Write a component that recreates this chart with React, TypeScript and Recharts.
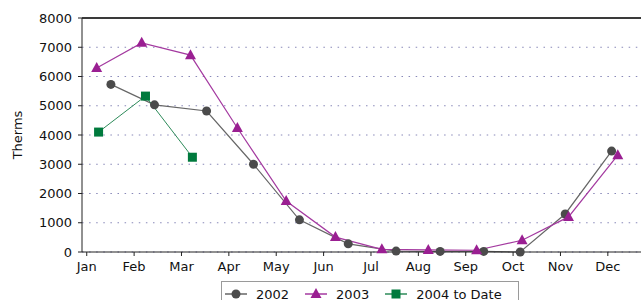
import { LineChart, Line, CartesianGrid, XAxis, YAxis, Legend, ReferenceLine, Label } from "recharts";

const months = ["Jan", "Feb", "Mar", "Apr", "May", "Jun", "Jul", "Aug", "Sep", "Oct", "Nov", "Dec"];
const yTicks = [0, 1000, 2000, 3000, 4000, 5000, 6000, 7000, 8000];

// read dates as month fractions (Jan = 0)
const x2002 = [0.51, 1.43, 2.53, 3.52, 4.49, 5.52, 6.53, 7.46, 8.38, 9.15, 10.1, 11.08];
const v2002 = [5730, 5030, 4820, 3000, 1100, 280, 30, 20, 20, 0, 1300, 3450];
const x2003 = [0.21, 1.16, 2.19, 3.18, 4.21, 5.25, 6.23, 7.21, 8.23, 9.19, 10.17, 11.21];
const v2003 = [6290, 7150, 6730, 4240, 1740, 510, 90, 70, 60, 400, 1200, 3310];
const x2004 = [0.25, 1.24, 2.23];
const v2004 = [4100, 5330, 3240];

const toRows = (xs: number[], vs: number[]) => xs.map((m, i) => ({ m, v: vs[i] }));
const d2002 = toRows(x2002, v2002);
const d2003 = toRows(x2003, v2003);
const d2004 = toRows(x2004, v2004);

const FONT = "'DejaVu Sans', sans-serif";
const C2002 = "#4b4b4b";
const C2003 = "#9a1f92";
const C2004 = "#007a3d";

function Circle({ cx, cy }: any) {
  return <circle cx={cx} cy={cy} r={4.5} fill={C2002} />;
}
function Tri({ cx, cy }: any) {
  return <polygon points={`${cx},${cy - 6} ${cx - 5.5},${cy + 4} ${cx + 5.5},${cy + 4}`} fill={C2003} />;
}
function Sq({ cx, cy }: any) {
  return <rect x={cx - 4.5} y={cy - 4.5} width={9} height={9} fill={C2004} />;
}

const legendItems = [
  { name: "2002", color: "#666", Mark: Circle },
  { name: "2003", color: "#a43aa0", Mark: Tri },
  { name: "2004 to Date", color: "#2e8b5a", Mark: Sq },
];

function LegendBox() {
  return (
    <div style={{ border: "1px solid #9a9a9a", height: 26, display: "flex", alignItems: "center", fontFamily: FONT, fontSize: 13, color: "#111", paddingLeft: 3, boxSizing: "border-box" }}>
      {legendItems.map((it) => (
        <div key={it.name} style={{ display: "flex", alignItems: "center", marginRight: 16 }}>
          <svg width={22} height={14} style={{ marginRight: 9 }}>
            <line x1={0} y1={7} x2={22} y2={7} stroke={it.color} strokeWidth={1.5} />
            <it.Mark cx={11} cy={7} />
          </svg>
          <span>{it.name}</span>
        </div>
      ))}
    </div>
  );
}

export default function App() {
  return (
    <div style={{ position: "absolute", left: 0, top: 0, width: 641, height: 300, overflow: "hidden", background: "#fff" }}>
      <LineChart width={641} height={300} margin={{ top: 18, right: 0, left: 0, bottom: 0 }}>
        <CartesianGrid vertical={false} stroke="#8888b8" strokeDasharray="1.5 5.6" />
        <XAxis
          type="number"
          dataKey="m"
          domain={[-0.1, 11.7]}
          ticks={months.map((_, i) => i)}
          tickFormatter={(i: number) => months[i]}
          allowDataOverflow
          height={30}
          stroke="#222"
          tickSize={4}
          tickMargin={6}
          tick={{ fill: "#111", fontFamily: FONT, fontSize: 13 }}
        />
        <YAxis
          type="number"
          dataKey="v"
          domain={[0, 8000]}
          ticks={yTicks}
          width={82}
          stroke="#222"
          tickSize={4}
          tickMargin={6}
          tick={{ fill: "#111", fontFamily: FONT, fontSize: 13 }}
        >
          <Label
            content={(p: any) => {
              const vb = p.viewBox || { x: 0, y: 18, height: 234 };
              const cx = vb.x + 17;
              const cy = vb.y + vb.height / 2;
              return (
                <text x={cx} y={cy} transform={`rotate(-90 ${cx} ${cy})`} textAnchor="middle" dominantBaseline="central" fontFamily={FONT} fontSize={13} fill="#111">
                  Therms
                </text>
              );
            }}
          />
        </YAxis>
        <ReferenceLine y={8000} stroke="#3a3a3a" strokeWidth={2} />
        <Line data={d2002} dataKey="v" name="2002" type="linear" stroke="#666" strokeWidth={1.2} dot={(p: any) => <Circle key={p.index} {...p} />} isAnimationActive={false} />
        <Line data={d2003} dataKey="v" name="2003" type="linear" stroke="#a43aa0" strokeWidth={1.2} dot={(p: any) => <Tri key={p.index} {...p} />} isAnimationActive={false} />
        <Line data={d2004} dataKey="v" name="2004 to Date" type="linear" stroke="#2e8b5a" strokeWidth={1} dot={(p: any) => <Sq key={p.index} {...p} />} isAnimationActive={false} />
        <Legend verticalAlign="bottom" height={18} content={() => <LegendBox />} wrapperStyle={{ left: 221, top: 281, width: 298, height: 18, bottom: "auto" }} />
      </LineChart>
    </div>
  );
}
